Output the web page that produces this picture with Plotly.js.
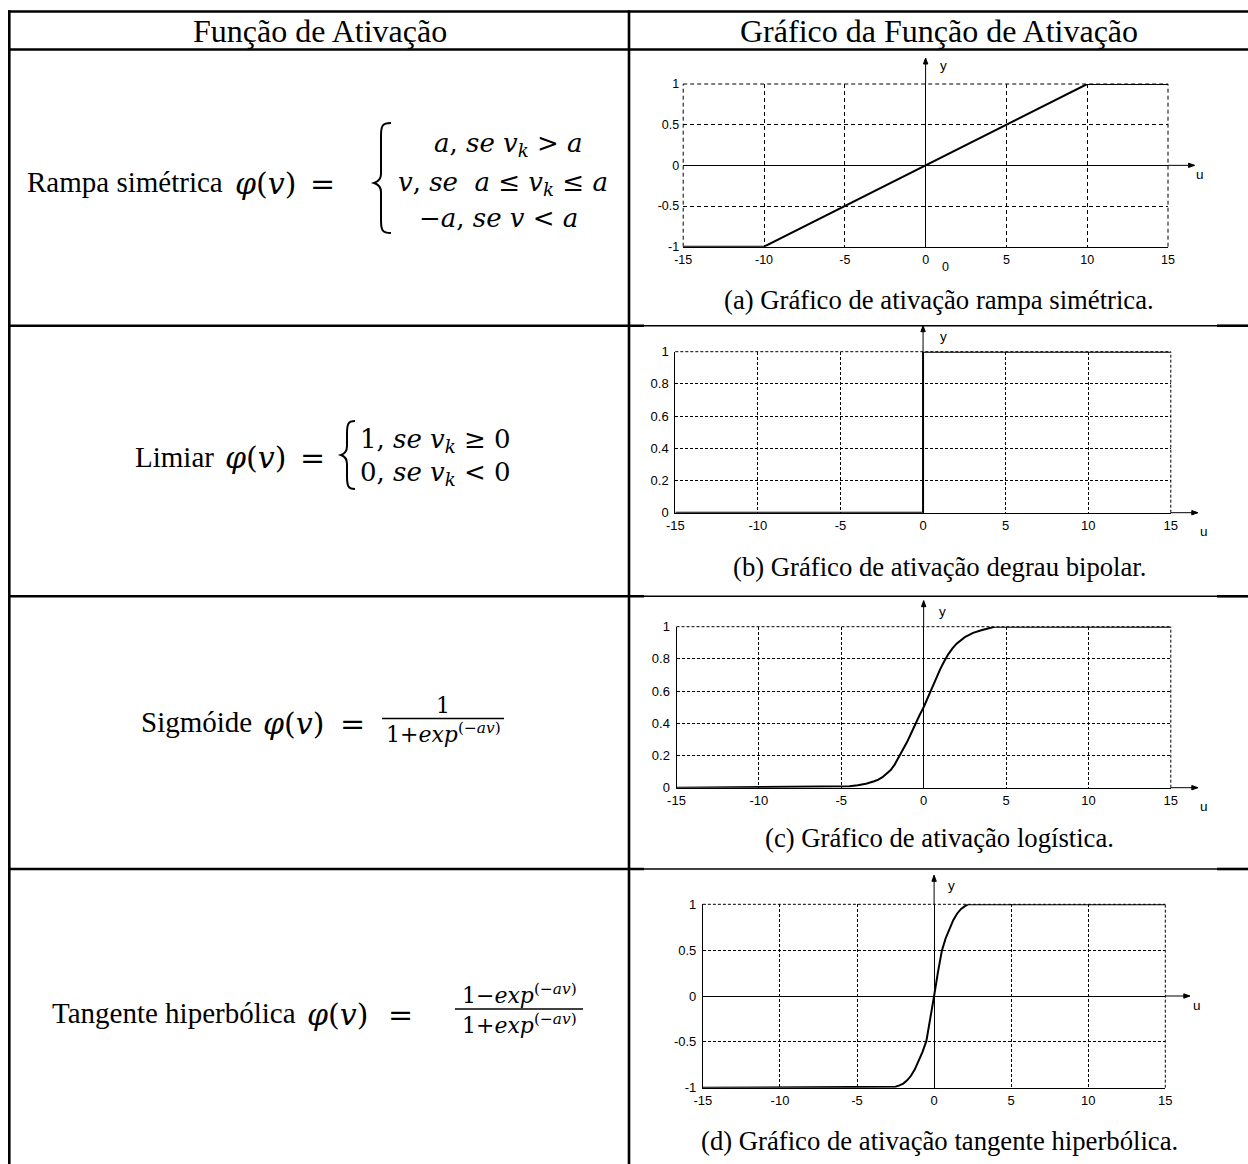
<!DOCTYPE html>
<html><head><meta charset="utf-8">
<script src="https://cdn.plot.ly/plotly-3.0.1.min.js"></script>
<style>html,body{margin:0;padding:0;background:#fff;} #chart{width:1248px;height:1164px;}</style>
</head><body><div id="chart"></div>
<script>
// ---------------- data ----------------
const headerLabels = ['Função de Ativação', 'Gráfico da Função de Ativação'];
const functionNames = ['Rampa simétrica', 'Limiar', 'Sigmóide', 'Tangente hiperbólica'];
const captions = [
  '(a) Gráfico de ativação rampa simétrica.',
  '(b) Gráfico de ativação degrau bipolar.',
  '(c) Gráfico de ativação logística.',
  '(d) Gráfico de ativação tangente hiperbólica.'
];
const axisNames = ['u', 'y'];

// (a) rampa simétrica
const rampU = [-15, -10, 10, 15];
const rampY = [-1, -1, 1, 1];
// (b) degrau
const stepU = [-15, 0, 0, 15];
const stepY = [0, 0, 1, 1];
// (c) logística
const sigU = [-15, -5, -4.5, -4, -3.5, -3, -2.75, -2.5, -2.25, -2, -1.75, -1.5, -1.25, -1, -0.75, -0.5, -0.25, 0, 0.25, 0.5, 0.75, 1, 1.25, 1.5, 1.75, 2, 2.5, 3, 3.5, 4, 4.3, 15];
const sigY = [0, 0.006, 0.009, 0.015, 0.025, 0.04, 0.05, 0.065, 0.085, 0.11, 0.145, 0.19, 0.235, 0.285, 0.34, 0.40, 0.45, 0.50, 0.56, 0.62, 0.68, 0.735, 0.785, 0.83, 0.865, 0.895, 0.935, 0.962, 0.978, 0.99, 1, 1];
// (d) tangente hiperbólica
const tanhU = [-15, -2.5, -2.25, -2, -1.75, -1.5, -1.25, -1, -0.75, -0.5, -0.25, 0, 0.25, 0.5, 0.75, 1, 1.25, 1.5, 1.75, 2, 2.2, 15];
const tanhY = [-1, -0.99, -0.975, -0.955, -0.92, -0.87, -0.8, -0.71, -0.61, -0.49, -0.26, 0, 0.26, 0.49, 0.63, 0.74, 0.83, 0.9, 0.95, 0.98, 1, 1];

// tick labels
const uTickVals = [-15, -10, -5, 0, 5, 10, 15];
const uTickText = ['-15', '-10', '-5', '0', '5', '10', '15'];
const bipolarTickVals = [-1, -0.5, 0, 0.5, 1];
const bipolarTickText = ['-1', '-0.5', '0', '0.5', '1'];
const unitTickVals = [0, 0.2, 0.4, 0.6, 0.8, 1];
const unitTickText = ['0', '0.2', '0.4', '0.6', '0.8', '1'];

// ---------------- layout helpers ----------------
const W = 1248, H = 1164;
const X = v => v / W;
const Y = v => 1 - v / H;
const serif = 'Liberation Serif, Times New Roman, serif';
const math = 'DejaVu Serif, serif';
const sans = 'Liberation Sans, Arial, sans-serif';

const panels = [
  {u: rampU, y: rampY, box: {l: 683.2, r: 1168, t: 84, b: 246.7}, yr: [-1, 1], tv: bipolarTickVals, tt: bipolarTickText, dash: '4px,3px', leftDashed: true, fs: 12.5, up: 26, right: 26.5, yLab: [18, 18], uLab: [32, -9], cap: 300},
  {u: stepU, y: stepY, box: {l: 675.3, r: 1170.8, t: 351.7, b: 512.7}, yr: [0, 1], tv: unitTickVals, tt: unitTickText, dash: '3px,2px', leftDashed: false, fs: 13, up: 26, right: 27, yLab: [20, 15], uLab: [33, -19], cap: 567},
  {u: sigU, y: sigY, box: {l: 676.5, r: 1170.8, t: 626.7, b: 787.7}, yr: [0, 1], tv: unitTickVals, tt: unitTickText, dash: '3px,2px', leftDashed: false, fs: 13, up: 26, right: 27, yLab: [19, 15], uLab: [33, -19], cap: 838},
  {u: tanhU, y: tanhY, box: {l: 702.9, r: 1165.3, t: 904.3, b: 1087.7}, yr: [-1, 1], tv: bipolarTickVals, tt: bipolarTickText, dash: '3px,2px', leftDashed: false, fs: 13, up: 29, right: 24.5, yLab: [17.5, 18.6], uLab: [32, -9], cap: 1141}
];

const data = [];
const layout = {
  width: W, height: H,
  margin: {l: 0, r: 0, t: 0, b: 0},
  paper_bgcolor: '#fff', plot_bgcolor: 'rgba(0,0,0,0)',
  showlegend: false, hovermode: false,
  shapes: [], annotations: []
};

panels.forEach((p, i) => {
  const s = i === 0 ? '' : String(i + 1);
  data.push({
    x: p.u, y: p.y, xaxis: 'x' + s, yaxis: 'y' + s,
    type: 'scatter', mode: 'lines',
    line: {color: '#000', width: 2}
  });
  const tickfont = {family: sans, size: p.fs, color: '#000'};
  layout['xaxis' + s] = {
    domain: [X(p.box.l), X(p.box.r)], range: [-15, 15], anchor: 'y' + s,
    tickmode: 'array', tickvals: uTickVals, ticktext: uTickText, ticks: '',
    showgrid: true, gridcolor: '#000', gridwidth: 1, griddash: p.dash,
    zeroline: true, zerolinecolor: '#000', zerolinewidth: 1,
    showline: true, linecolor: '#000', linewidth: 1,
    tickfont: tickfont, ticklabelstandoff: 1, fixedrange: true
  };
  layout['yaxis' + s] = {
    domain: [Y(p.box.b), Y(p.box.t)], range: p.yr, anchor: 'x' + s,
    tickmode: 'array', tickvals: p.tv, ticktext: p.tt, ticks: '',
    showgrid: true, gridcolor: '#000', gridwidth: 1, griddash: p.dash,
    zeroline: true, zerolinecolor: '#000', zerolinewidth: 1,
    showline: !p.leftDashed, linecolor: '#000', linewidth: 1,
    tickfont: tickfont, ticklabelstandoff: 3, fixedrange: true
  };
  const xr = 'x' + s, yr = 'y' + s;
  const xd = xr + ' domain', yd = yr + ' domain';
  const x0f = (0 - (-15)) / 30;                       // domain fraction of u = 0
  const y0f = (0 - p.yr[0]) / (p.yr[1] - p.yr[0]);    // domain fraction of y = 0
  const dashed = {color: '#000', width: 1, dash: p.dash};
  // frame edges that the grid leaves out (top, right, and left for panel a)
  layout.shapes.push({type: 'line', xref: xd, yref: yd, x0: 0, x1: 1, y0: 1, y1: 1, line: dashed});
  layout.shapes.push({type: 'line', xref: xd, yref: yd, x0: 1, x1: 1, y0: 0, y1: 1, line: dashed});
  if (p.leftDashed) layout.shapes.push({type: 'line', xref: xd, yref: yd, x0: 0, x1: 0, y0: 0, y1: 1, line: dashed});
  // axis arrows
  const L1 = p.up, L2 = p.right;
  layout.shapes.push({type: 'path', xref: xd, yref: yd, xsizemode: 'pixel', ysizemode: 'pixel', xanchor: x0f, yanchor: 1,
    path: `M0,0 L0,${L1} M-2.2,${L1 - 6} L0,${L1} L2.2,${L1 - 6} Z`, line: {color: '#000', width: 1}, fillcolor: '#000'});
  layout.shapes.push({type: 'path', xref: xd, yref: yd, xsizemode: 'pixel', ysizemode: 'pixel', xanchor: 1, yanchor: y0f,
    path: `M0,0 L${L2},0 M${L2 - 6},2.2 L${L2},0 L${L2 - 6},-2.2 Z`, line: {color: '#000', width: 1}, fillcolor: '#000'});
  // axis names
  layout.annotations.push({xref: xr, x: 0, xshift: p.yLab[0], yref: yd, y: 1, yshift: p.yLab[1], xanchor: 'center', yanchor: 'middle', text: axisNames[1], showarrow: false, font: {family: sans, size: 13.5, color: '#000'}});
  layout.annotations.push({xref: xd, x: 1, xshift: p.uLab[0], yref: yr, y: 0, yshift: p.uLab[1], xanchor: 'center', yanchor: 'middle', text: axisNames[0], showarrow: false, font: {family: sans, size: 13.5, color: '#000'}});
  // caption
  layout.annotations.push({xref: 'paper', yref: 'paper', x: X(939), y: Y(p.cap), text: captions[i], showarrow: false, xanchor: 'center', yanchor: 'middle', font: {family: serif, size: 26.7, color: '#000'}});
});
// extra "0" under the origin of chart (a)
layout.annotations.push({xref: 'x', x: 0, xshift: 19.5, yref: 'y domain', y: 0, yshift: -20, xanchor: 'center', yanchor: 'middle', text: uTickText[3], showarrow: false, font: {family: sans, size: 12.5, color: '#000'}});

// ---------------- table ----------------
function hline(y, x0, x1, w) {
  layout.shapes.push({type: 'line', xref: 'paper', yref: 'paper', x0: X(x0), x1: X(x1), y0: Y(y), y1: Y(y), line: {color: '#000', width: w}});
}
function vline(x, y0, y1, w) {
  layout.shapes.push({type: 'line', xref: 'paper', yref: 'paper', x0: X(x), x1: X(x), y0: Y(y0), y1: Y(y1), line: {color: '#000', width: w}});
}
hline(11.5, 8, 1248, 2.6);
hline(49.5, 8, 1248, 2.6);
vline(9.3, 10.2, 1164, 2.6);
vline(629, 10.2, 1164, 2.6);
[325.7, 596.3, 869].forEach(y => {
  hline(y, 8, 644, 2.6);
  hline(y, 644, 1217, 1.4);
  hline(y, 1217, 1248, 2.6);
});

function txt(text, x, y, size, family, opts) {
  return Object.assign({xref: 'paper', yref: 'paper', x: X(x), y: Y(y), text: text, showarrow: false,
    xanchor: 'center', yanchor: 'middle', font: {family: family, size: size, color: '#000'}}, opts || {});
}
const A = layout.annotations;
A.push(txt(headerLabels[0], 320, 30.5, 32, serif));
A.push(txt(headerLabels[1], 939, 30.5, 32, serif));

const phi = '<i>φ</i>(<i>v</i>)';
const NAME = 29, PHI = 30, LINE = 26, FRAC = 22;
// row 1
A.push(txt(functionNames[0], 225, 182, NAME, serif, {xanchor: 'right'}));
A.push(txt(phi, 233, 183, PHI, math, {xanchor: 'left'}));
A.push(txt('=', 322, 183, PHI, math));
A.push(txt('<i>a</i>, <i>se v</i><sub><i>k</i></sub> &gt; <i>a</i>', 508, 144, LINE, math));
A.push(txt('<i>v</i>, <i>se</i>&nbsp; <i>a</i> ≤ <i>v</i><sub><i>k</i></sub> ≤ <i>a</i>', 503, 183, LINE, math));
A.push(txt('−<i>a</i>, <i>se v</i> &lt; <i>a</i>', 498, 218, LINE, math));
// row 2
A.push(txt(functionNames[1], 216, 457, NAME, serif, {xanchor: 'right'}));
A.push(txt(phi, 223, 458, PHI, math, {xanchor: 'left'}));
A.push(txt('=', 312, 458, PHI, math));
A.push(txt('1, <i>se v</i><sub><i>k</i></sub> ≥ 0', 358, 440, LINE, math, {xanchor: 'left'}));
A.push(txt('0, <i>se v</i><sub><i>k</i></sub> &lt; 0', 358, 473, LINE, math, {xanchor: 'left'}));
// row 3
A.push(txt(functionNames[2], 254, 722, NAME, serif, {xanchor: 'right'}));
A.push(txt(phi, 261, 723, PHI, math, {xanchor: 'left'}));
A.push(txt('=', 352, 723, PHI, math));
A.push(txt('1', 443, 705, FRAC, math));
A.push(txt('1+<i>exp</i><sup>(−<i>av</i>)</sup>', 443, 733, FRAC, math));
hline(718.5, 382, 504, 1.6);
// row 4
A.push(txt(functionNames[3], 298, 1013, NAME, serif, {xanchor: 'right'}));
A.push(txt(phi, 305, 1014, PHI, math, {xanchor: 'left'}));
A.push(txt('=', 400, 1014, PHI, math));
A.push(txt('1−<i>exp</i><sup>(−<i>av</i>)</sup>', 519, 994, FRAC, math));
A.push(txt('1+<i>exp</i><sup>(−<i>av</i>)</sup>', 519, 1024, FRAC, math));
hline(1009, 455, 583, 1.6);

// braces drawn as paths (pixel -> paper)
function bracePath(xStem, xTip, xEnd, top, mid, bot) {
  const P = (x, y) => X(x).toFixed(5) + ',' + Y(y).toFixed(5);
  return 'M' + P(xEnd, top) +
    ' C' + P(xStem + 1, top) + ' ' + P(xStem, top + 3) + ' ' + P(xStem, top + 13) +
    ' L' + P(xStem, mid - 9) +
    ' C' + P(xStem, mid - 3) + ' ' + P(xTip + 3, mid - 1) + ' ' + P(xTip, mid) +
    ' C' + P(xTip + 3, mid + 1) + ' ' + P(xStem, mid + 3) + ' ' + P(xStem, mid + 9) +
    ' L' + P(xStem, bot - 13) +
    ' C' + P(xStem, bot - 3) + ' ' + P(xStem + 1, bot) + ' ' + P(xEnd, bot);
}
layout.shapes.push({type: 'path', xref: 'paper', yref: 'paper', path: bracePath(381, 374, 391, 123, 183, 233), line: {color: '#000', width: 2}});
layout.shapes.push({type: 'path', xref: 'paper', yref: 'paper', path: bracePath(347, 341, 355, 421, 455, 489), line: {color: '#000', width: 2}});

Plotly.newPlot('chart', data, layout, {staticPlot: true, displayModeBar: false});
</script>
</body></html>
